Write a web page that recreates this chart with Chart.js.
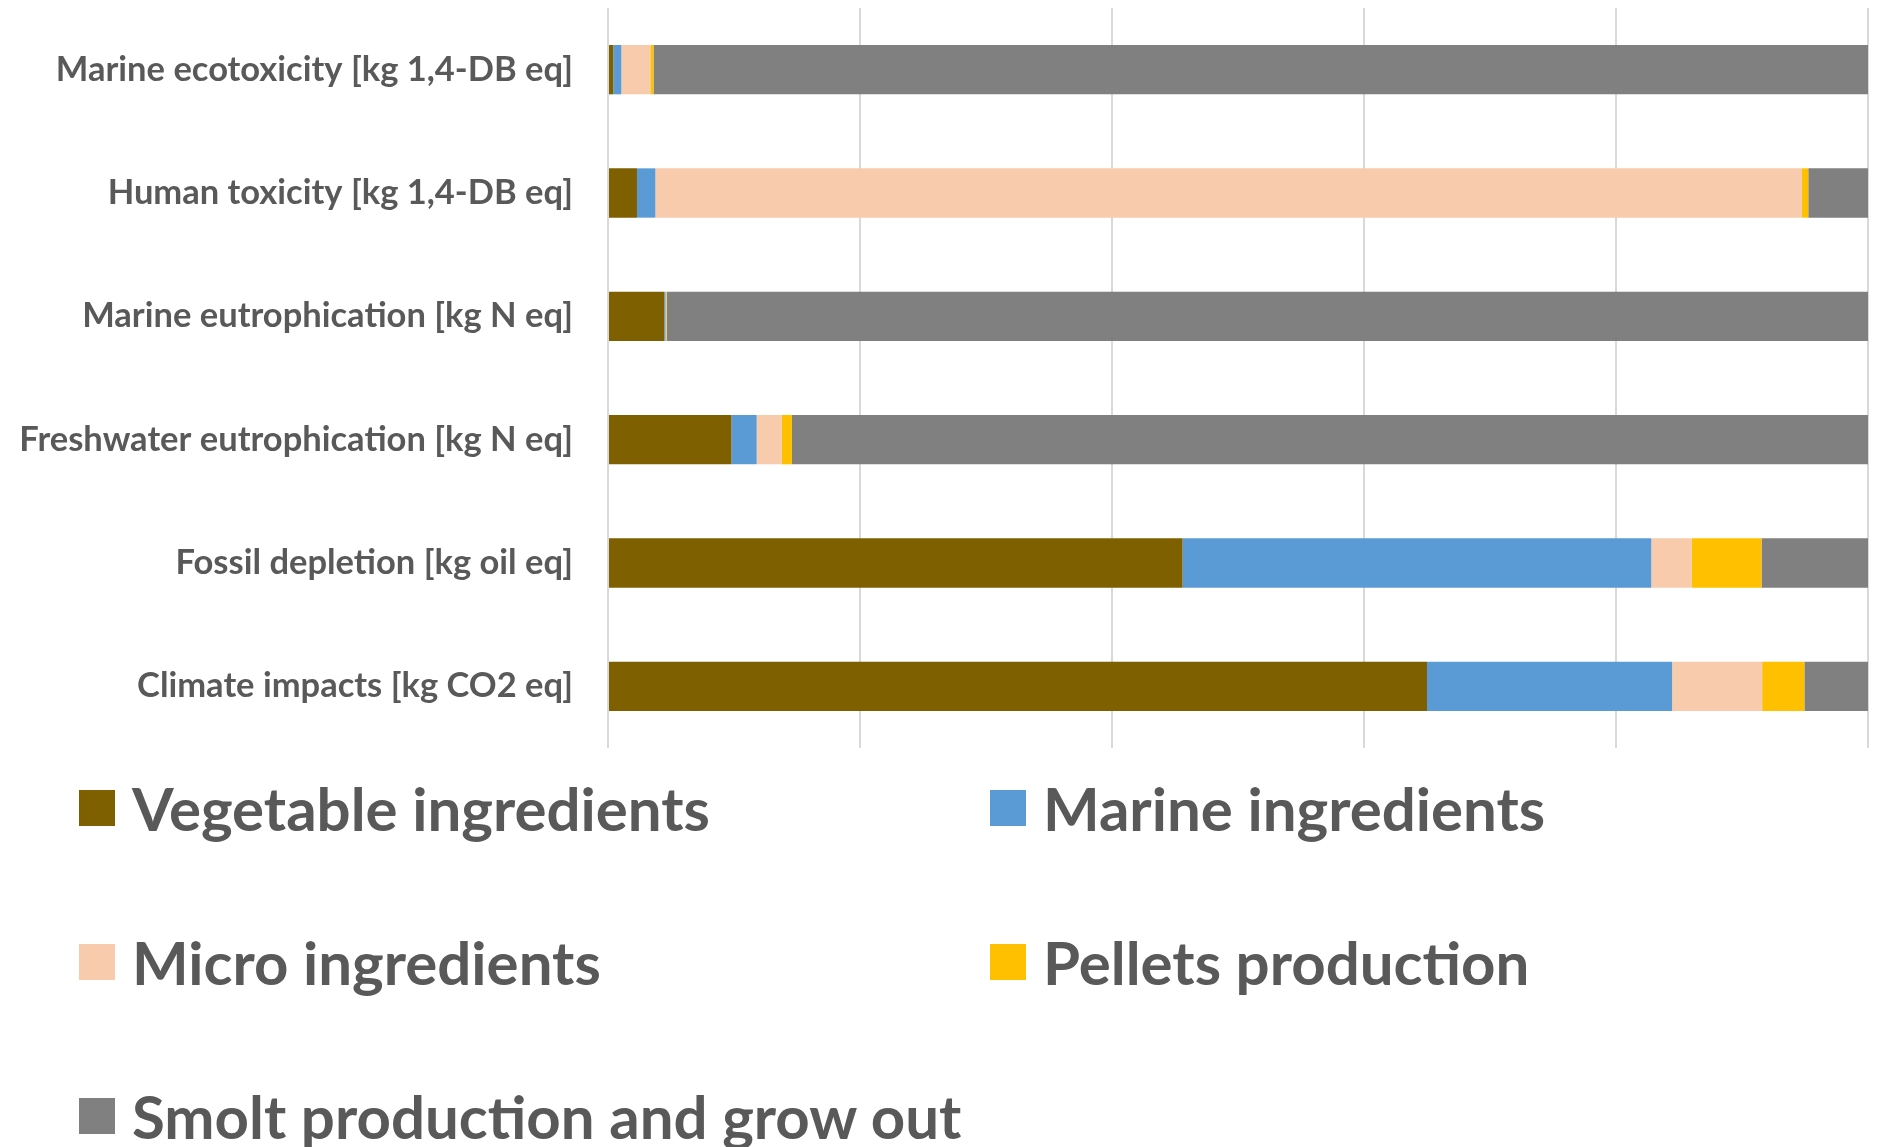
<!DOCTYPE html>
<html>
<head>
<meta charset="utf-8">
<script src="https://cdn.jsdelivr.net/npm/chart.js@4"></script>
<style>
  html, body { margin: 0; padding: 0; background: #ffffff; }
  body { width: 1878px; height: 1147px; position: relative; overflow: hidden; font-family: Lato, "Open Sans", sans-serif; }
  #wrap { position: absolute; left: 0; top: 0; width: 1878px; height: 760px; }
  #legend { position: absolute; left: 0; top: 0; width: 1878px; height: 1147px; pointer-events: none; }
  .item { position: absolute; height: 40px; display: flex; align-items: center; }
  .box { width: 36px; height: 36px; flex: 0 0 36px; }
  .lbl { margin-left: 17px; font-weight: 700; font-size: 60px; color: #595959; line-height: 1; white-space: nowrap; }
</style>
</head>
<body>
<div id="wrap"><canvas id="c"></canvas></div>
<div id="legend"></div>
<script>
const categories = [
  "Marine ecotoxicity [kg 1,4-DB eq]",
  "Human toxicity [kg 1,4-DB eq]",
  "Marine eutrophication [kg N eq]",
  "Freshwater eutrophication [kg N eq]",
  "Fossil depletion [kg oil eq]",
  "Climate impacts [kg CO2 eq]"
];
const seriesNames = ["Vegetable ingredients", "Marine ingredients", "Micro ingredients", "Pellets production", "Smolt production and grow out"];
const vegetable = [0.42, 2.3, 4.47, 9.8, 45.6, 65.0];
const marine    = [0.64, 1.46, 0.1, 2.0, 37.2, 19.45];
const micro     = [2.3, 91.0, 0.05, 2.0, 3.2, 7.15];
const pellets   = [0.25, 0.5, 0.05, 0.8, 5.55, 3.35];
const smolt     = [96.39, 4.74, 95.33, 85.4, 8.45, 5.05];
const xTicks = [0, 20, 40, 60, 80, 100];
const colors = ["#7F6000", "#5B9BD5", "#F8CBAD", "#FFC000", "#808080"];

const seriesValues = [vegetable, marine, micro, pellets, smolt];
const datasets = seriesNames.map((n, i) => ({
  label: n,
  data: seriesValues[i],
  backgroundColor: colors[i],
  borderWidth: 0,
  barPercentage: 0.4,
  categoryPercentage: 1.0
}));

const chart = new Chart(document.getElementById('c'), {
  type: 'bar',
  data: { labels: categories, datasets },
  options: {
    indexAxis: 'y',
    responsive: true,
    maintainAspectRatio: false,
    animation: false,
    layout: { padding: { top: 8, right: 10, bottom: 12, left: 0 } },
    plugins: { legend: { display: false }, tooltip: { enabled: false } },
    scales: {
      x: {
        stacked: true,
        min: xTicks[0],
        max: xTicks[xTicks.length - 1],
        afterBuildTicks: (s) => { s.ticks = xTicks.map(v => ({ value: v })); },
        ticks: { display: false },
        grid: { color: '#d9d9d9', lineWidth: 2, drawTicks: false },
        border: { display: false }
      },
      y: {
        stacked: true,
        afterFit: (s) => { s.width = 608; s.paddingTop = 0; s.paddingBottom = 0; },
        grid: { display: false, drawTicks: false },
        border: { display: false },
        ticks: {
          color: '#595959',
          padding: 35,
          font: { family: 'Lato', weight: 'bold', size: 34.5 }
        }
      }
    }
  }
});

const legend = document.getElementById('legend');
const colX = [79, 990];
const rowY = [788, 942, 1096];
chart.data.datasets.forEach((d, i) => {
  const it = document.createElement('div');
  it.className = 'item';
  it.style.left = colX[i % 2] + 'px';
  it.style.top = rowY[Math.floor(i / 2)] + 'px';
  const b = document.createElement('div');
  b.className = 'box';
  b.style.background = d.backgroundColor;
  const t = document.createElement('div');
  t.className = 'lbl';
  t.textContent = d.label;
  it.appendChild(b); it.appendChild(t);
  legend.appendChild(it);
});
</script>
</body>
</html>
